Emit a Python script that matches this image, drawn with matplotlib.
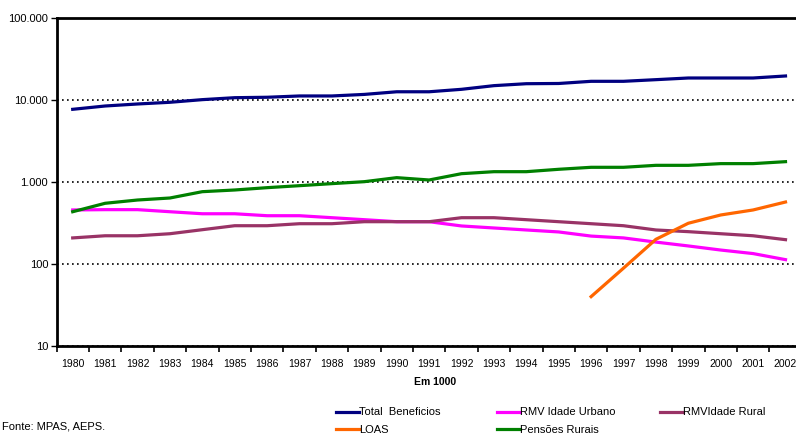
import numpy as np
import matplotlib
matplotlib.use("Agg")
import matplotlib.pyplot as plt
from matplotlib.ticker import FixedLocator, FixedFormatter, NullFormatter

plt.rcParams['font.family'] = ['Liberation Sans', 'DejaVu Sans']

anos = [str(a) for a in range(1980, 2003)]

total_beneficios = [7700, 8450, 8940, 9380, 10100, 10670, 10800, 11200, 11200, 11700,
                    12600, 12600, 13500, 14960, 15800, 15900, 16900, 16900, 17700,
                    18550, 18550, 18550, 19630]
rmv_urbano = [456, 460, 460, 434, 410, 410, 388, 388, 367, 347, 328, 328, 291, 275,
              260, 246, 219, 208, 185, 166, 148, 134, 113]
rmv_rural = [208, 221, 221, 234, 262, 293, 293, 310, 310, 328, 328, 328, 367, 367,
             347, 328, 310, 293, 260, 248, 234, 221, 198]
loas_anos = anos[16:]
loas = [40, 89, 200, 314, 396, 456, 570]
pensoes_rurais = [434, 550, 603, 638, 762, 799, 853, 902, 955, 1009, 1130, 1058, 1263,
                  1336, 1336, 1429, 1511, 1511, 1597, 1597, 1675, 1675, 1770]

y_ticks = [10, 100, 1000, 10000, 100000]
y_labels = ["10", "100", "1.000", "10.000", "100.000"]

W, H = 796, 436
fig = plt.figure(figsize=(W / 100, H / 100), dpi=100)
ax = fig.add_axes([56.5 / W, 1 - 346 / H, 745.2 / W, 328 / H])

x = np.arange(len(anos))
xl = x[16:]
lw = 2.3
l_total, = ax.plot(x, total_beneficios, color='#000080', lw=lw, label='Total  Beneficios')
l_urb, = ax.plot(x, rmv_urbano, color='#FF00FF', lw=lw, label='RMV Idade Urbano')
l_rur, = ax.plot(x, rmv_rural, color='#993366', lw=lw, label='RMVIdade Rural')
l_loas, = ax.plot(xl, loas, color='#FF6600', lw=lw, label='LOAS')
l_pen, = ax.plot(x, pensoes_rurais, color='#008000', lw=lw, label='Pensões Rurais')

ax.set_yscale('log')
ax.set_ylim(10, 100000)
ax.set_xlim(-0.5, len(anos) - 0.5)
ax.yaxis.set_major_locator(FixedLocator(y_ticks))
ax.yaxis.set_major_formatter(FixedFormatter(y_labels))
ax.yaxis.set_minor_locator(FixedLocator([]))
ax.tick_params(axis='y', which='major', length=4, width=1, labelsize=8, pad=2)

ax.set_xticks(x)
ax.set_xticklabels(anos)
ax.set_xticks(np.arange(-0.5, len(anos)), minor=True)
ax.xaxis.set_minor_formatter(NullFormatter())
ax.tick_params(axis='x', which='major', length=0, labelsize=7.5, pad=9)
ax.tick_params(axis='x', which='minor', length=4, width=1.2)

for v in y_ticks[:-1]:
    ax.axhline(v, color='black', lw=1.2, ls=(0, (1, 2)), zorder=0)

for s in ['left', 'bottom', 'top']:
    ax.spines[s].set_linewidth(2)
ax.spines['right'].set_visible(False)

fig.text(435 / W, 1 - 382 / H, 'Em 1000', fontsize=7.5, fontweight='bold',
         ha='center', va='center')

# legend laid out in three columns
cols = [([l_total, l_loas], 336), ([l_urb, l_pen], 497), ([l_rur], 660)]
for handles, px in cols:
    fig.legend(handles=handles, loc='upper left',
               bbox_to_anchor=((px - 4) / W, 1 - 403 / H), frameon=False,
               fontsize=8, handlelength=2.0, handletextpad=0.0,
               labelspacing=0.7, borderaxespad=0)

fig.text(2 / W, 1 - 426 / H, 'Fonte: MPAS, AEPS.', fontsize=8, va='center')

fig.savefig('out.png', dpi=100)
